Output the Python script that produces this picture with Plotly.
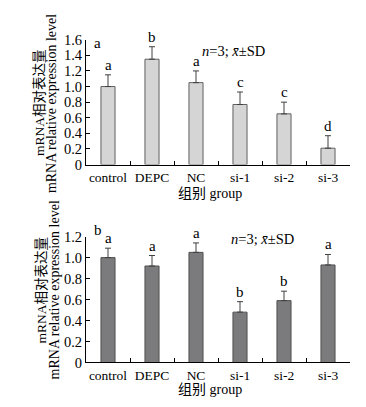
import plotly.graph_objects as go

categories = ["control", "DEPC", "NC", "si-1", "si-2", "si-3"]

top_values = [1.00, 1.35, 1.05, 0.77, 0.65, 0.21]
top_errors = [0.15, 0.16, 0.15, 0.16, 0.15, 0.16]
top_letters = ["a", "b", "a", "c", "c", "d"]
top_ticks = [0, 0.2, 0.4, 0.6, 0.8, 1.0, 1.2, 1.4, 1.6]
top_ticktext = ["0", "0.2", "0.4", "0.6", "0.8", "1.0", "1.2", "1.4", "1.6"]

bot_values = [1.00, 0.92, 1.05, 0.48, 0.59, 0.93]
bot_errors = [0.09, 0.10, 0.09, 0.10, 0.09, 0.10]
bot_letters = ["a", "a", "a", "b", "b", "a"]
bot_ticks = [0, 0.2, 0.4, 0.6, 0.8, 1.0, 1.2]
bot_ticktext = ["0", "0.2", "0.4", "0.6", "0.8", "1.0", "1.2"]

W, H = 366, 407
def px(x):
    return x / W
def py(y):
    return 1 - y / H

SERIF = "Liberation Serif, Times New Roman, serif"
CJK = "Liberation Serif, Noto Sans CJK SC, serif"

fig = go.Figure()

fig.add_trace(go.Bar(
    x=categories, y=top_values, xaxis="x", yaxis="y",
    marker=dict(color="#d5d5d5", line=dict(color="#606060", width=1)),
    error_y=dict(type="data", symmetric=False, array=top_errors,
                 arrayminus=[0] * len(top_errors), color="#404040",
                 thickness=1, width=3),
    showlegend=False,
))
fig.add_trace(go.Bar(
    x=categories, y=bot_values, xaxis="x2", yaxis="y2",
    marker=dict(color="#7b7b7d", line=dict(color="#505050", width=1)),
    error_y=dict(type="data", symmetric=False, array=bot_errors,
                 arrayminus=[0] * len(bot_errors), color="#404040",
                 thickness=1, width=3),
    showlegend=False,
))

annotations = []
for c, v, e, l in zip(categories, top_values, top_errors, top_letters):
    annotations.append(dict(x=c, y=v + e, xref="x", yref="y", text=l,
                            showarrow=False, xanchor="center", yanchor="bottom", yshift=0,
                            font=dict(family=SERIF, size=15, color="black")))
for c, v, e, l in zip(categories, bot_values, bot_errors, bot_letters):
    annotations.append(dict(x=c, y=v + e, xref="x2", yref="y2", text=l,
                            showarrow=False, xanchor="center", yanchor="bottom", yshift=0,
                            font=dict(family=SERIF, size=15, color="black")))

def note(x, y, text, size, family=SERIF, angle=0):
    return dict(x=px(x), y=py(y), xref="paper", yref="paper", text=text,
                showarrow=False, xanchor="center", yanchor="middle",
                textangle=angle, font=dict(family=family, size=size, color="black"))

# panel labels
annotations.append(note(97, 36, "a", 15))
annotations.append(note(98, 231, "b", 15))

# n=3 text
annotations.append(note(233, 45, "<i>n</i>=3; <i>x\u0304</i>±SD", 14.5))
annotations.append(note(262, 240, "<i>n</i>=3; <i>x\u0304</i>±SD", 14.5))

# y titles
for (x1, x2, yc) in [(39, 51, 99), (41, 54, 294)]:
    annotations.append(note(x1, yc, "mRNA相对表达量", 13.5, CJK, -90))
    annotations.append(note(x2, yc, "mRNA relative expression level", 14, SERIF, -90))

# x titles
annotations.append(note(210, 193, "组别 group", 14, CJK))
annotations.append(note(210, 397, "组别 group", 14, CJK))

xdom = [px(86), px(350)]
xaxis_common = dict(showline=True, linecolor="black", linewidth=1,
                    ticks="inside", ticklen=4, tickcolor="black",
                    tickson="boundaries", showgrid=False, zeroline=False,
                    tickangle=0,
                    tickfont=dict(family=SERIF, size=13.5, color="black"))
yaxis_common = dict(showline=True, linecolor="black", linewidth=1,
                    ticks="inside", ticklen=4, tickcolor="black",
                    showgrid=False, zeroline=False,
                    tickfont=dict(family=SERIF, size=14.5, color="black"))

fig.update_layout(
    width=W, height=H,
    margin=dict(l=0, r=0, t=0, b=0),
    paper_bgcolor="white", plot_bgcolor="white",
    bargap=0.68,
    xaxis=dict(domain=xdom, anchor="y", **xaxis_common),
    yaxis=dict(domain=[py(163), py(33)], anchor="x", range=[0, 1.6],
               tickvals=top_ticks, ticktext=top_ticktext, **yaxis_common),
    xaxis2=dict(domain=xdom, anchor="y2", **xaxis_common),
    yaxis2=dict(domain=[py(369), py(238)], anchor="x2", range=[0, 1.2],
                tickvals=bot_ticks, ticktext=bot_ticktext, **yaxis_common),
    annotations=annotations,
)

fig.write_html("out.html", config={"displayModeBar": False},
               post_script="document.body.style.margin='0';document.body.style.overflow='hidden';")
